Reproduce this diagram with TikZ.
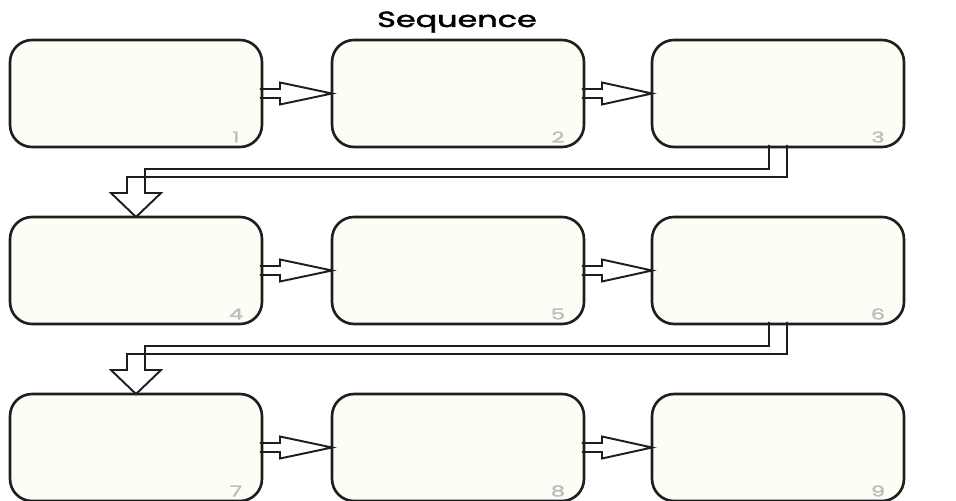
\documentclass[tikz,border=0pt]{standalone}
\usepackage{fontspec}
\newfontfamily\seqfont{Poppins}[FakeBold=1.8]
\usetikzlibrary{calc}
\definecolor{boxfill}{RGB}{253,253,246}
\definecolor{boxline}{RGB}{30,30,30}
\definecolor{numgray}{RGB}{190,190,190}
\tikzset{
  seqbox/.style={draw=boxline, fill=boxfill, line width=1.5pt, rounded corners=0.44cm,
    minimum width=5.04cm, minimum height=2.14cm, inner sep=0pt, outer sep=0pt},
  numlabel/.style={text=numgray, font=\seqfont\fontsize{8.5}{9}\selectfont, xscale=1.5},
  blockarrow/.style={draw=boxline, fill=boxfill, line width=1.1pt, line join=miter}
}
\newcommand{\seqarrow}[2]{%
  \draw ($(#1.east)+(-2,-4.5)$) -- ($(#1.east)+(18,-4.5)$) -- ($(#1.east)+(18,-11)$)
    -- (#2.west) -- ($(#1.east)+(18,11)$) -- ($(#1.east)+(18,4.5)$) -- ($(#1.east)+(-2,4.5)$);}
\newcommand{\wraparrow}[2]{%
  \draw ($(#1.south)+(-9,-2)$) -- ($(#1.south)+(-9,22)$) -- ($(#2.north)+(9,-48)$)
    -- ($(#2.north)+(9,-24)$) -- ($(#2.north)+(25,-24)$) -- (#2.north)
    -- ($(#2.north)+(-25,-24)$) -- ($(#2.north)+(-9,-24)$) -- ($(#2.north)+(-9,-40)$)
    -- ($(#1.south)+(9,30)$) -- ($(#1.south)+(9,-2)$);}
\begin{document}
\begin{tikzpicture}[x=0.02cm, y=-0.02cm]
      \useasboundingbox (0,0) rectangle (956,500);
      \node[font=\seqfont\fontsize{12.5}{14}\selectfont, xscale=1.45, anchor=base] (title) at (457,27) {Sequence};
      \draw
        (136,93.5) node[seqbox] (s1){}
        (458,93.5) node[seqbox] (s2){}
        (778,93.5) node[seqbox] (s3){}
        (136,270.5) node[seqbox] (s4){}
        (458,270.5) node[seqbox] (s5){}
        (778,270.5) node[seqbox] (s6){}
        (136,447.5) node[seqbox] (s7){}
        (458,447.5) node[seqbox] (s8){}
        (778,447.5) node[seqbox] (s9){};
      \begin{scope}[blockarrow]
        \seqarrow{s1}{s2}
        \seqarrow{s2}{s3}
        \wraparrow{s3}{s4}
        \seqarrow{s4}{s5}
        \seqarrow{s5}{s6}
        \wraparrow{s6}{s7}
        \seqarrow{s7}{s8}
        \seqarrow{s8}{s9}
      \end{scope}
      \draw
        ($(s1.south east)+(-26,-10)$) node[numlabel] (n1){1}
        ($(s2.south east)+(-26,-10)$) node[numlabel] (n2){2}
        ($(s3.south east)+(-26,-10)$) node[numlabel] (n3){3}
        ($(s4.south east)+(-26,-10)$) node[numlabel] (n4){4}
        ($(s5.south east)+(-26,-10)$) node[numlabel] (n5){5}
        ($(s6.south east)+(-26,-10)$) node[numlabel] (n6){6}
        ($(s7.south east)+(-26,-10)$) node[numlabel] (n7){7}
        ($(s8.south east)+(-26,-10)$) node[numlabel] (n8){8}
        ($(s9.south east)+(-26,-10)$) node[numlabel] (n9){9};
    \end{tikzpicture}
\end{document}
